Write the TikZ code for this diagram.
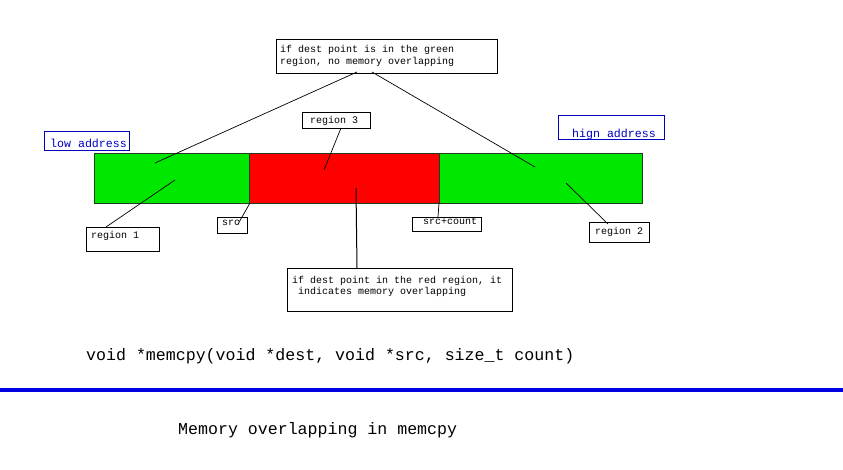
\documentclass[tikz,border=0pt]{standalone}
\usepackage{fontspec}
\setmonofont{Liberation Mono}
\definecolor{gC}{RGB}{0,232,0}
\definecolor{rC}{RGB}{255,0,0}
\definecolor{barEdge}{RGB}{30,60,30}
\definecolor{blueC}{RGB}{0,0,190}
\definecolor{blueLine}{RGB}{0,0,225}
\tikzset{
  seg/.style={draw=barEdge, line width=1pt, inner sep=0, anchor=north west},
  box/.style={draw=black, line width=0.9pt, inner sep=0, anchor=north west},
  bluebox/.style={draw=blueC, line width=1pt, inner sep=0, anchor=north west},
  txt/.style={anchor=base west, inner sep=0, font=\ttfamily\fontsize{10}{12}\selectfont},
  bluetxt/.style={anchor=base west, inner sep=0, text=blueC, font=\ttfamily\fontsize{11.6}{13}\selectfont},
  bigtxt/.style={anchor=base west, inner sep=0, font=\ttfamily\fontsize{16.6}{18}\selectfont},
  conn/.style={draw=black, line width=0.7pt},
}
\begin{document}
\begin{tikzpicture}[x=1pt, y=-1pt]
\useasboundingbox (0,0) rectangle (843,469);
% bar
\node[seg, fill=gC, minimum width=155pt, minimum height=50pt] (g1) at (94,153) {};
\node[seg, fill=rC, minimum width=190pt, minimum height=50pt] (red) at (249,153) {};
\node[seg, fill=gC, minimum width=203pt, minimum height=50pt] (g2) at (439,153) {};
% boxes
\node[box, minimum width=221pt, minimum height=34pt] (top) at (276,39) {};
\node[bluebox, minimum width=85pt, minimum height=19pt] (low) at (44,131) {};
\node[bluebox, minimum width=106pt, minimum height=24pt] (high) at (558,115) {};
\node[box, minimum width=68pt, minimum height=16pt] (r3) at (302,112) {};
\node[box, minimum width=73pt, minimum height=24pt] (r1) at (86,227) {};
\node[box, minimum width=30pt, minimum height=16pt] (src) at (217,217) {};
\node[box, minimum width=69pt, minimum height=14pt] (sc) at (412,217) {};
\node[box, minimum width=60pt, minimum height=20pt] (r2) at (589,222) {};
\node[box, minimum width=225pt, minimum height=43pt] (rc) at (287,268) {};
% texts
\node[txt] (t1) at (280,52) {if dest point is in the green};
\node[txt] (t2) at (280,64) {region, no memory overlapping};
\node[bluetxt] (tlow) at (50,147) {low address};
\node[bluetxt] (thigh) at (572,137) {hign address};
\node[txt] (tr3) at (310,123) {region 3};
\node[txt] (tr1) at (91,238) {region 1};
\node[txt] (tsrc) at (222,225) {src};
\node[txt] (tsc) at (423,224) {src+count};
\node[txt] (tr2) at (595,234) {region 2};
\node[txt] (tc1) at (292,283) {if dest point in the red region, it};
\node[txt] (tc2) at (298,294) {indicates memory overlapping};
\node[bigtxt] (code) at (86,360) {void *memcpy(void *dest, void *src, size\_t count)};
\node[bigtxt] (cap) at (178,434) {Memory overlapping in memcpy};
% connector endpoints
\coordinate (tA) at (357,72);
\coordinate (tB) at (372,72);
\coordinate (pG1) at (155,163);
\coordinate (pG2) at (535,167);
\coordinate (r3a) at (341,128);
\coordinate (r3b) at (324,170);
\coordinate (r1a) at (106,227);
\coordinate (r1b) at (175,180);
\coordinate (srca) at (238,224);
\coordinate (srcb) at (250,203);
\coordinate (sca) at (438,217);
\coordinate (scb) at (439,203);
\coordinate (r2a) at (608,224);
\coordinate (r2b) at (566,183);
\coordinate (rca) at (357,268);
\coordinate (rcb) at (356,188);
\coordinate (bl1) at (0,389.7);
\coordinate (bl2) at (843,389.7);
% connectors
\draw[conn] (tA) -- (pG1);
\draw[conn] (tB) -- (pG2);
\draw[conn] (r3a) -- (r3b);
\draw[conn] (r1a) -- (r1b);
\draw[conn] (srca) -- (srcb);
\draw[conn] (sca) -- (scb);
\draw[conn] (r2a) -- (r2b);
\draw[conn, line width=1pt] (rca) -- (rcb);
\draw[draw=blueLine, line width=4pt] (bl1) -- (bl2);
\end{tikzpicture}
\end{document}
